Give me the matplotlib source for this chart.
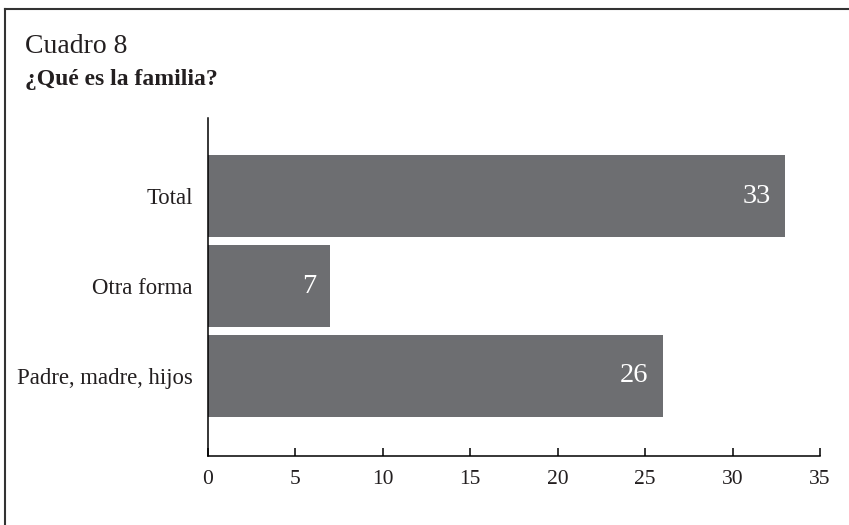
import matplotlib
matplotlib.use("Agg")
import matplotlib.pyplot as plt
from matplotlib.lines import Line2D

categories = ["Padre, madre, hijos", "Otra forma", "Total"]
values = [26, 7, 33]
xticks = [0, 5, 10, 15, 20, 25, 30, 35]

title = "Cuadro 8"
subtitle = "¿Qué es la familia?"

BAR = "#6d6e71"
TXT = "#231f20"
plt.rcParams["font.family"] = ["Liberation Serif", "DejaVu Serif"]

fig = plt.figure(figsize=(8.49, 5.25), dpi=100)
W, H = 849, 525
ax = fig.add_axes([208 / W, 1 - 456 / H, (820 - 208) / W, (456 - 118) / H])

y = list(range(len(categories)))
ax.barh(y, values, height=0.91, color=BAR, zorder=2)
for yi, v in zip(y, values):
    ax.text(v - 0.8, yi, str(v), ha="right", va="center", color="white", fontsize=20.5)

ax.set_xlim(0, 35)
ax.set_ylim(-0.89, 2.87)
ax.set_xticks(xticks)
ax.set_xticklabels([str(t) for t in xticks], fontsize=15.5, color=TXT)
ax.set_yticks(y)
ax.set_yticklabels(categories, fontsize=16.4, color=TXT)
ax.tick_params(axis="x", direction="in", length=6, width=1.1, pad=10, color="black")
ax.tick_params(axis="y", length=0, pad=11)
for s in ["top", "right"]:
    ax.spines[s].set_visible(False)
for s in ["left", "bottom"]:
    ax.spines[s].set_linewidth(1.1)
    ax.spines[s].set_color("black")

fig.text(25 / W, 1 - 53 / H, title, fontsize=20, color=TXT, ha="left", va="baseline")
fig.text(25 / W, 1 - 85 / H, subtitle, fontsize=17, fontweight="bold", color=TXT,
         ha="left", va="baseline")

# frame lines (top and left only)
fig.add_artist(Line2D([4.5 / W, 4.5 / W], [0, 1 - 9 / H], transform=fig.transFigure,
                      color="#333333", linewidth=1.5))
fig.add_artist(Line2D([4.5 / W, 1], [1 - 9 / H, 1 - 9 / H], transform=fig.transFigure,
                      color="#333333", linewidth=1.5))

fig.savefig("out.png", dpi=100)
